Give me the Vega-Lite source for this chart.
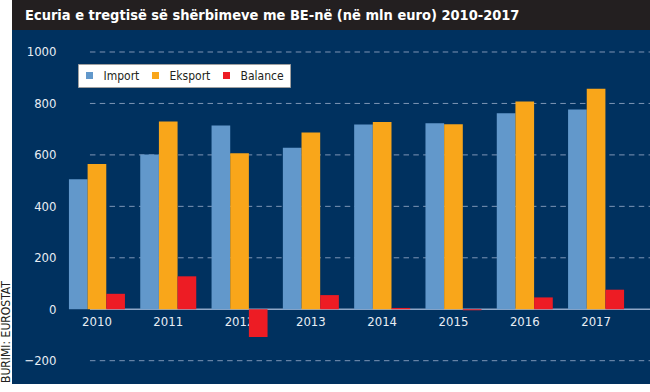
{
  "$schema": "https://vega.github.io/schema/vega-lite/v6.json",
  "background": "white",
  "padding": 0,
  "config": {
    "view": {"stroke": null},
    "concat": {"spacing": 0},
    "font": "'DejaVu Sans Condensed', sans-serif"
  },
  "spacing": 0,
  "hconcat": [
    {
      "width": 11,
      "height": 384,
      "view": {"fill": "white", "stroke": null},
      "data": {"values": [{"source": "BURIMI: EUROSTAT"}]},
      "mark": {"type": "text", "angle": 270, "align": "left", "baseline": "middle", "fontSize": 12, "color": "#231f20", "dx": 1, "dy": 0.5, "font": "'DejaVu Sans Condensed', sans-serif"},
      "encoding": {
        "text": {"field": "source"},
        "y": {"datum": 0, "type": "quantitative", "scale": {"domain": [0, 1]}, "axis": null}
      }
    },
    {
      "spacing": 0,
      "vconcat": [
        {
          "width": 639,
          "height": 30,
          "view": {"fill": "#231f20", "stroke": null},
          "data": {"values": [{"title": "Ecuria e tregtisë së shërbimeve me BE-në (në mln euro) 2010-2017"}]},
          "mark": {"type": "text", "align": "left", "baseline": "middle", "fontSize": 14.5, "fontWeight": "bold", "color": "white", "dx": 13, "dy": 1, "font": "'DejaVu Sans Condensed', sans-serif"},
          "encoding": {
            "text": {"field": "title"},
            "x": {"datum": 0, "type": "quantitative", "scale": {"domain": [0, 1]}, "axis": null}
          }
        },
        {
          "width": 639,
          "height": 354,
          "view": {"fill": "#00315f", "stroke": null},
          "layer": [
            {
              "data": {"values": [{"g": -200}, {"g": 200}, {"g": 400}, {"g": 600}, {"g": 800}, {"g": 1000}]},
              "mark": {"type": "rule", "color": "#7d95b5", "strokeWidth": 1, "strokeDash": [5.5, 4.3], "xOffset": -7, "x2Offset": 62},
              "encoding": {
                "x": {"datum": "2010", "type": "nominal"},
                "x2": {"datum": "2017"},
                "y": {"field": "g", "type": "quantitative"}
              }
            },
            {
              "data": {"values": [{"g": 0}]},
              "mark": {"type": "rule", "color": "#8fa7c7", "strokeWidth": 1.5, "xOffset": -7, "x2Offset": 63},
              "encoding": {
                "x": {"datum": "2010", "type": "nominal"},
                "x2": {"datum": "2017"},
                "y": {"field": "g", "type": "quantitative"}
              }
            },
            {
              "data": {
                "values": [
                  {"year": "2010", "series": "Import", "value": 505},
                  {"year": "2010", "series": "Eksport", "value": 565},
                  {"year": "2010", "series": "Balance", "value": 60},
                  {"year": "2011", "series": "Import", "value": 602},
                  {"year": "2011", "series": "Eksport", "value": 730},
                  {"year": "2011", "series": "Balance", "value": 128},
                  {"year": "2012", "series": "Import", "value": 714},
                  {"year": "2012", "series": "Eksport", "value": 606},
                  {"year": "2012", "series": "Balance", "value": -108},
                  {"year": "2013", "series": "Import", "value": 628},
                  {"year": "2013", "series": "Eksport", "value": 687},
                  {"year": "2013", "series": "Balance", "value": 55},
                  {"year": "2014", "series": "Import", "value": 718},
                  {"year": "2014", "series": "Eksport", "value": 728},
                  {"year": "2014", "series": "Balance", "value": 5},
                  {"year": "2015", "series": "Import", "value": 723},
                  {"year": "2015", "series": "Eksport", "value": 719},
                  {"year": "2015", "series": "Balance", "value": -4},
                  {"year": "2016", "series": "Import", "value": 762},
                  {"year": "2016", "series": "Eksport", "value": 808},
                  {"year": "2016", "series": "Balance", "value": 46},
                  {"year": "2017", "series": "Import", "value": 776},
                  {"year": "2017", "series": "Eksport", "value": 857},
                  {"year": "2017", "series": "Balance", "value": 76}
                ]
              },
              "mark": {"type": "bar"},
              "encoding": {
                "x": {
                  "field": "year",
                  "type": "nominal",
                  "scale": {"paddingInner": 0.2146, "paddingOuter": 0.588, "align": 0.679, "round": false},
                  "axis": {
                    "title": null,
                    "orient": "bottom",
                    "offset": -75,
                    "bandPosition": 0.5,
                    "domain": false,
                    "ticks": false,
                    "tickSize": 0,
                    "labelAngle": 0,
                    "labelAlign": "center",
                    "labelPadding": 6,
                    "labelBaseline": "top",
                    "labelFontSize": 13,
                    "labelColor": "#e8edf4",
                    "labelFont": "'DejaVu Sans Condensed', sans-serif"
                  }
                },
                "xOffset": {
                  "field": "series",
                  "type": "nominal",
                  "sort": ["Import", "Eksport", "Balance"],
                  "scale": {"paddingInner": 0, "paddingOuter": 0}
                },
                "y": {
                  "field": "value",
                  "type": "quantitative",
                  "scale": {"domain": [-290.6, 1085.5], "nice": false, "zero": false},
                  "axis": {
                    "title": null,
                    "values": [-200, 0, 200, 400, 600, 800, 1000],
                    "format": "d",
                    "grid": false,
                    "domain": false,
                    "ticks": false,
                    "tickSize": 0,
                    "labelPadding": -44,
                    "labelAlign": "right",
                    "labelBaseline": "middle",
                    "labelFontSize": 13,
                    "labelColor": "#e8edf4",
                    "labelFont": "'DejaVu Sans Condensed', sans-serif"
                  }
                },
                "color": {
                  "field": "series",
                  "type": "nominal",
                  "sort": ["Import", "Eksport", "Balance"],
                  "scale": {"domain": ["Import", "Eksport", "Balance"], "range": ["#6298cb", "#f9a61a", "#ed1c24"]},
                  "legend": {
                    "title": null,
                    "orient": "none",
                    "legendX": 78,
                    "legendY": 64,
                    "direction": "horizontal",
                    "fillColor": "white",
                    "strokeColor": "#a0a0a0",
                    "padding": 5.5,
                    "symbolType": "square",
                    "symbolSize": 49,
                    "symbolStrokeWidth": 0,
                    "labelFontSize": 12,
                    "labelColor": "#231f20",
                    "labelOffset": 8,
                    "columnPadding": 10,
                    "labelFont": "'DejaVu Sans Condensed', sans-serif"
                  }
                }
              }
            }
          ]
        }
      ]
    }
  ]
}
